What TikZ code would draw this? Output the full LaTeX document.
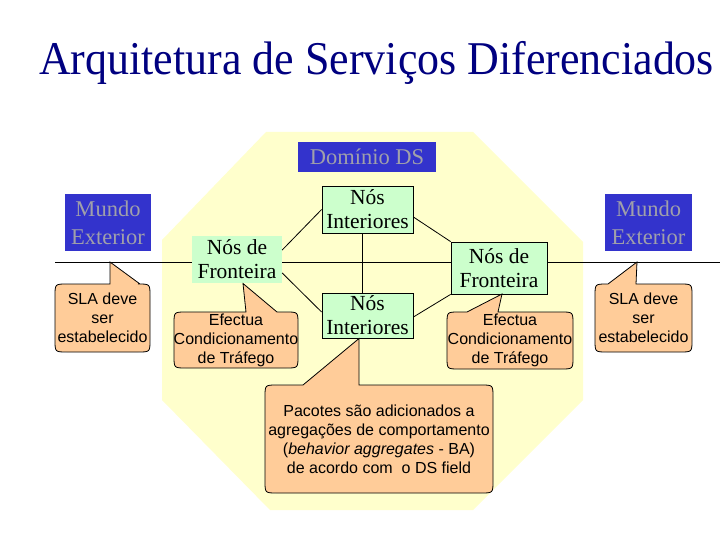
\documentclass[tikz,border=0pt]{standalone}
\usepackage{fontspec}
\setmainfont{Liberation Serif}
\newfontfamily\arialf{Liberation Sans}
\definecolor{titleblue}{RGB}{0,0,128}
\definecolor{octyellow}{RGB}{255,255,204}
\definecolor{nodegreen}{RGB}{204,255,204}
\definecolor{dsblue}{RGB}{51,51,204}
\definecolor{dsgray}{RGB}{160,160,170}
\definecolor{calloutorange}{RGB}{255,204,153}
\newcommand\mycallout[8]{%
  \draw[calloutshape] ({#1+12},#2) -- (#5,#2) -- (#7,#8) -- (#6,#2) -- ({#3-12},#2)
    .. controls (#3,#2) .. (#3,{#2+12}) -- (#3,{#4-12})
    .. controls (#3,#4) .. ({#3-12},#4) -- ({#1+12},#4)
    .. controls (#1,#4) .. (#1,{#4-12}) -- (#1,{#2+12})
    .. controls (#1,#2) .. ({#1+12},#2) -- cycle;}
\tikzset{
  serifnode/.style={font=\fontsize{21.5}{24}\selectfont, align=center, inner sep=0pt, fill=nodegreen},
  nodebox/.style={serifnode, draw=black, line width=0.8pt},
  bluebox/.style={fill=dsblue, text=dsgray, align=center, inner sep=0pt, font=\fontsize{22.5}{28}\selectfont},
  calloutshape/.style={fill=calloutorange, draw=black, line width=0.8pt},
  callouttext/.style={font=\arialf\fontsize{16}{19}\selectfont, align=center, inner sep=0pt},
  link/.style={draw=black, line width=0.8pt}
}
\begin{document}
\begin{tikzpicture}[x=1pt,y=-1pt]
\useasboundingbox (0,0) rectangle (720,540);
\fill[white] (0,0) rectangle (720,540);
% DS domain octagon
\fill[octyellow] (266,132) -- (473,132) -- (583,242) -- (583,400) -- (473,510) -- (270,510) -- (162,400) -- (162,240) -- cycle;
% title
\node[anchor=base west, text=titleblue, inner sep=0pt] (title) at (39,75)
  {\scalebox{0.935}[1]{\fontsize{47}{50}\selectfont Arquitetura de Serviços Diferenciados}};
% boxes
\node[bluebox, minimum width=138pt, minimum height=30pt] (dom) at (367,157) {Domínio DS};
\node[bluebox, minimum width=86pt, minimum height=57pt] (mundoL) at (108,222.5) {Mundo\\Exterior};
\node[bluebox, minimum width=87pt, minimum height=57pt] (mundoR) at (648.5,222.5) {Mundo\\Exterior};
% boundary line
\coordinate (lineL) at (55,262);
\coordinate (lineR) at (720,262);
\draw[link] (lineL) -- (lineR);
% nodes
\node[serifnode, minimum width=90pt, minimum height=47pt] (FL) at (237,259.5) {Nós de\\Fronteira};
\node[nodebox, minimum width=96pt, minimum height=52pt] (FR) at (499,268) {Nós de\\Fronteira};
\node[nodebox, minimum width=91pt, minimum height=47pt] (IT) at (367.5,209.5) {Nós\\Interiores};
\node[nodebox, minimum width=91pt, minimum height=45pt] (IB) at (367.5,315.5) {Nós\\Interiores};
% connectors
\draw[link] ([xshift=-5.5pt]IT.south) -- ([xshift=-5.5pt]IB.north);
\draw[link] ([yshift=9.5pt]FL.east) -- (IT.west);
\draw[link] ([yshift=-13.5pt]FL.east) -- ([yshift=3.5pt]IB.west);
\draw[link] ([yshift=-7.5pt]IT.east) -- (FR.north west);
\draw[link] ([yshift=-1.5pt]IB.east) -- (FR.south west);
% callouts
\mycallout{55}{284}{150}{352}{110}{140}{110}{262}
\node[callouttext] (slaL) at (102.5,318) {SLA deve\\ser\\estabelecido};
\mycallout{174}{312}{298}{368}{246}{277}{243}{283.5}
\node[callouttext] (condL) at (236,340) {Efectua\\Condicionamento\\de Tráfego};
\mycallout{447}{312}{573}{369}{467}{498}{502}{294}
\node[callouttext] (condR) at (510,340.5) {Efectua\\Condicionamento\\de Tráfego};
\mycallout{595}{284}{692}{352}{608}{636}{637}{262}
\node[callouttext] (slaR) at (643.5,318) {SLA deve\\ser\\estabelecido};
\mycallout{265}{385}{493}{493}{303}{359}{359}{338.5}
\node[callouttext] (pac) at (379,439.5) {Pacotes são adicionados a\\agregações de comportamento\\(\textit{behavior aggregates} - BA)\\de acordo com\ \ o DS field};
\end{tikzpicture}
\end{document}
